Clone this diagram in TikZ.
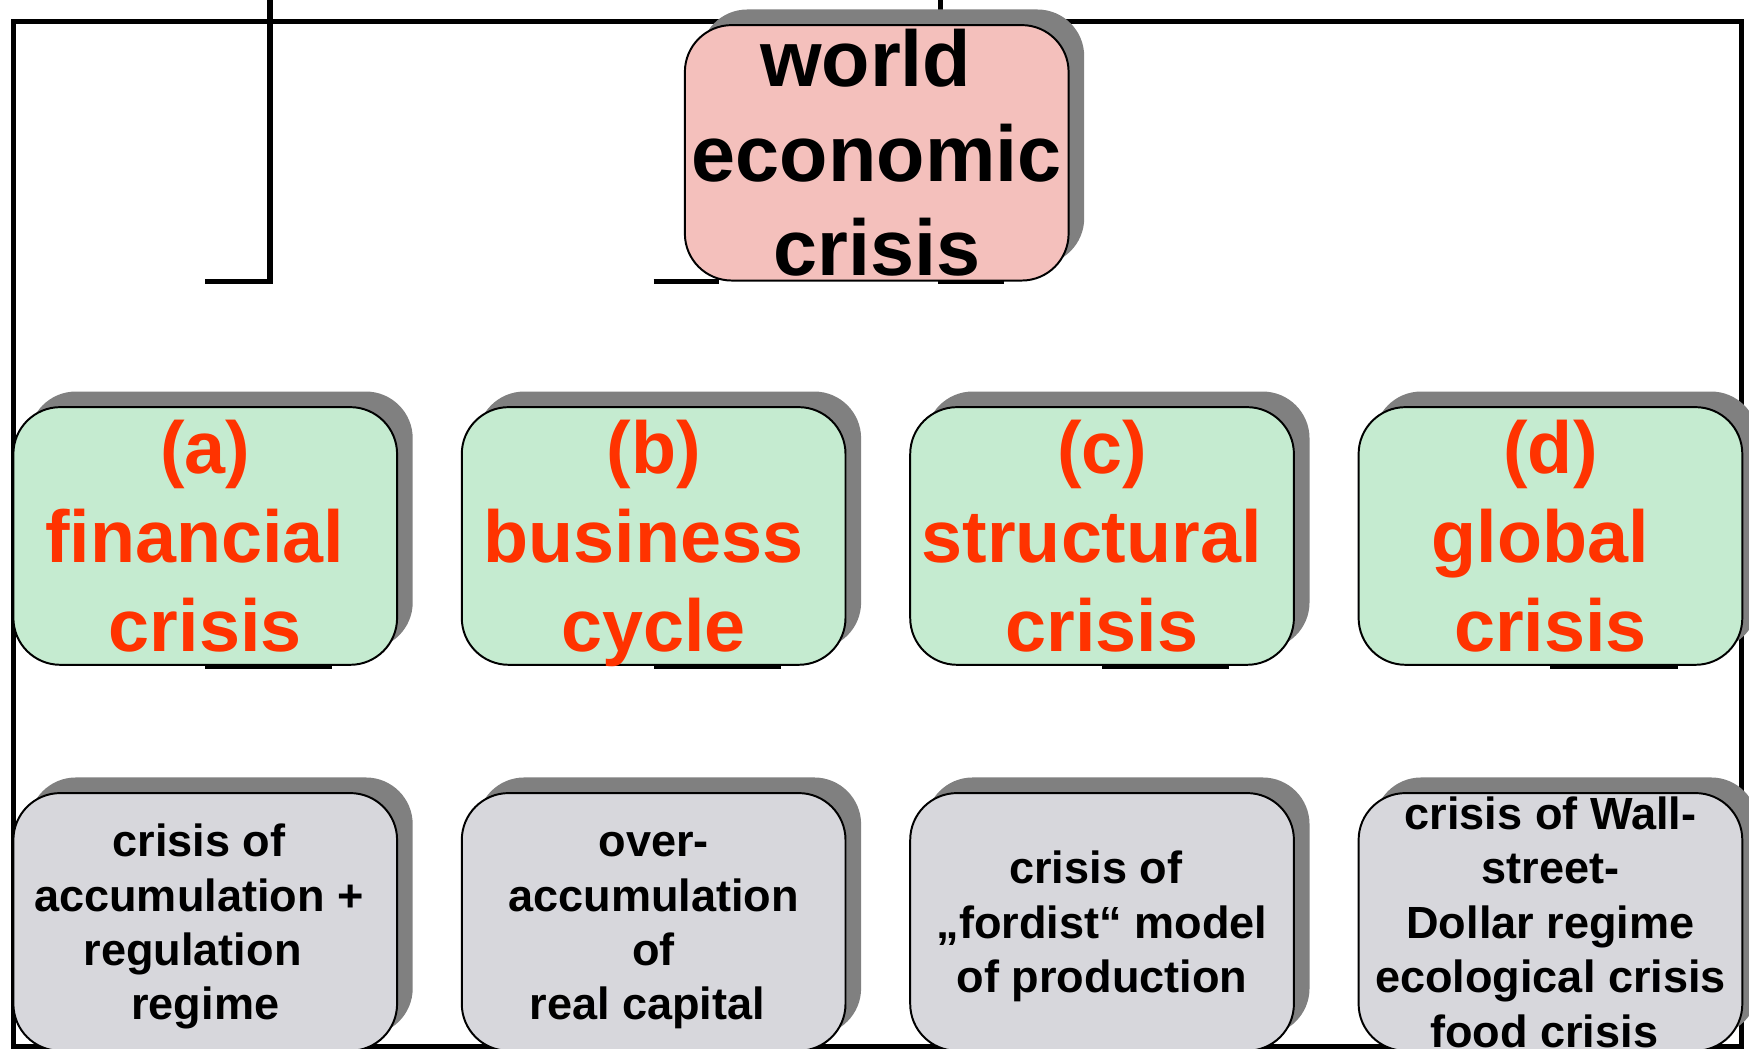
\documentclass[tikz,border=0pt]{standalone}
\usepackage{fontspec}
\setmainfont{Liberation Sans}
\usepackage{tikz}
\usetikzlibrary{shadows}
\usetikzlibrary{backgrounds}
\definecolor{pinkfill}{RGB}{244,192,188}
\definecolor{greenfill}{RGB}{197,235,208}
\definecolor{grayfill}{RGB}{215,215,220}
\definecolor{shadowgray}{RGB}{128,128,128}
\definecolor{redtext}{RGB}{255,51,0}
\newcommand{\trsp}{\kern.28em}
\newcommand{\flatbase}[1]{\raisebox{0pt}[\height][0pt]{#1}}

\begin{document}
\begin{tikzpicture}[-,thick,
    box/.style={draw,line width=0.5pt,rounded corners=0.42cm,inner sep=0pt,minimum width=3.44cm,align=center,
      drop shadow={shadow xshift=0.14cm,shadow yshift=0.14cm,fill=shadowgray,opacity=1}},
    top node/.style={box,fill=pinkfill,minimum height=2.29cm,font=\fontsize{20.2}{24.2}\selectfont\bfseries},
    type node/.style={box,fill=greenfill,minimum height=2.31cm,text=redtext,font=\fontsize{18.8}{22.7}\selectfont\bfseries},
    cause node/.style={box,fill=grayfill,minimum height=2.31cm,font=\fontsize{11.5}{13.9}\selectfont\bfseries},
    wire/.style={line width=1.4pt}]
      \useasboundingbox (0,0) rectangle (15.68,9.40);

      \node [top node] (world) at (7.86,8.03) {world\trsp\\economic\\crisis};

      \node [type node] (a1) at (1.84,4.595) {(a)\\financial\trsp\\crisis};
      \node [type node] (b1) at (5.86,4.595) {(b)\\business\trsp\\\flatbase{cycle}};
      \node [type node] (c1) at (9.88,4.595) {(c)\\structural\trsp\\crisis};
      \node [type node] (d1) at (13.90,4.595) {(d)\\global\trsp\\crisis};

      \node [cause node] (a2) at (1.84,1.135) {crisis of\trsp\\accumulation +\trsp\\regulation\trsp\trsp\\\flatbase{regime}};
      \node [cause node] (b2) at (5.86,1.135) {\vphantom{l}over-\\accumulation\\of\\\flatbase{real capital}\trsp};
      \node [cause node] (c2) at (9.88,1.135) {crisis of\trsp\\„fordist“ model\\\flatbase{of production}};
      \node [cause node] (d2) at (13.90,1.135) {crisis of Wall-\\street-\\Dollar regime\\ecological crisis\\food crisis\trsp};

      \begin{scope}[on background layer]
        \draw[line width=1.2pt] (0.12,0.02) rectangle (15.61,9.21);

        \draw[wire] (2.42,9.40) |- (a1 |- world.south);
        \draw[wire] (8.43,9.40) |- ([xshift=1.14cm]world.south);
        \draw[wire] (b1 |- world.south) -- ++(0.59,0);

        \foreach \n in {a1, b1, c1, d1}
          \draw[wire] (\n.south) -- ++(1.14,0);
      \end{scope}
\end{tikzpicture}
\end{document}
